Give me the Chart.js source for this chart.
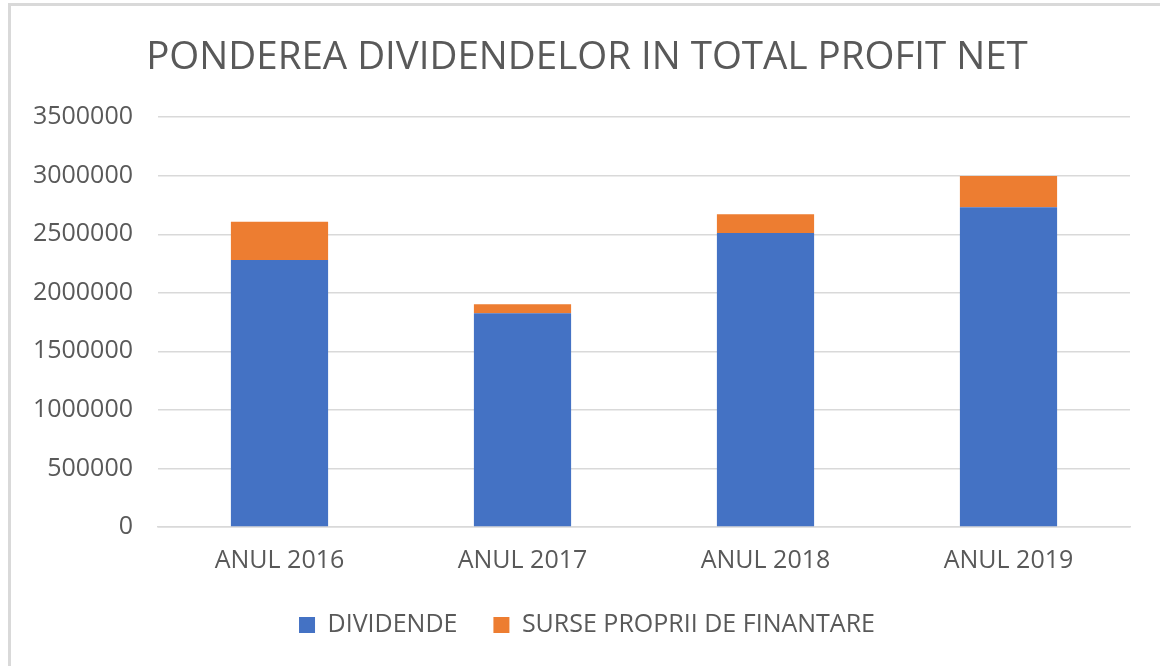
<!DOCTYPE html>
<html>
<head>
<meta charset="utf-8">
<script src="https://cdn.jsdelivr.net/npm/chart.js@4"></script>
<style>
  html, body { margin: 0; padding: 0; background: #fff; }
  #wrap { position: relative; width: 1160px; height: 666px; overflow: hidden; }
  #frame { position: absolute; left: 8px; top: 3px; width: 1200px; height: 700px;
           border-left: 3px solid #d9d9d9; border-top: 3px solid #d9d9d9; }
  canvas { position: absolute; left: 0; top: 0; }
</style>
</head>
<body>
<div id="wrap">
  <div id="frame"></div>
  <canvas id="chart" width="1160" height="666"></canvas>
</div>
<script>
const categories = ["ANUL 2016", "ANUL 2017", "ANUL 2018", "ANUL 2019"];
const dividende = [2280000, 1825000, 2510000, 2730000];
const surseProprii = [328000, 77000, 162000, 268000];
const seriesNames = ["DIVIDENDE", "SURSE PROPRII DE FINANTARE"];

const textColor = '#595959';
const fontFamily = "'Open Sans', sans-serif";

window.onload = function(){
  const chartConfig = {
    type: 'bar',
    data: {
      labels: categories,
      datasets: [{
        label: seriesNames[0],
        data: dividende,
        backgroundColor: '#4472c4'
      }, {
        label: seriesNames[1],
        data: surseProprii,
        backgroundColor: '#ed7d31'
      }]
    },
    options: {
      responsive: false,
      animation: false,
      layout: { padding: { left: 30, right: 16, top: 0, bottom: 18.5 } },
      datasets: { bar: { categoryPercentage: 1, barPercentage: 0.4 } },
      plugins: {
        title: {
          display: true,
          text: 'PONDEREA DIVIDENDELOR IN TOTAL PROFIT NET',
          color: textColor,
          font: { family: fontFamily, size: 38.5, weight: 'normal', lineHeight: 1.2 },
          padding: { top: 35, bottom: 36 }
        },
        legend: {
          position: 'bottom',
          labels: {
            color: textColor,
            font: { family: fontFamily, size: 25 },
            boxWidth: 16,
            boxHeight: 16,
            padding: 36
          }
        },
        tooltip: { enabled: false }
      },
      scales: {
        x: {
          stacked: true,
          grid: { display: false, drawTicks: false },
          border: { display: true, color: '#d9d9d9', width: 1.5 },
          ticks: { color: textColor, font: { family: fontFamily, size: 25 }, padding: 19 },
          afterFit: function(scale){ scale.height = 49.5; }
        },
        y: {
          stacked: true,
          min: 0,
          max: 3500000,
          grid: { color: '#d9d9d9', lineWidth: 1.5, drawTicks: false },
          border: { display: false },
          ticks: {
            stepSize: 500000,
            color: textColor,
            font: { family: fontFamily, size: 25 },
            padding: 25,
            callback: function(value){ return String(value); }
          },
          afterFit: function(scale){ scale.width = 128; }
        },
        // empty right axis, only keeps the plot area off the right edge
        yRight: {
          position: 'right',
          grid: { display: false, drawTicks: false },
          border: { display: false },
          ticks: { display: false },
          afterFit: function(scale){ scale.width = 14; }
        }
      }
    }
  };
  new Chart(document.getElementById('chart'), chartConfig);
};
</script>
</body>
</html>
